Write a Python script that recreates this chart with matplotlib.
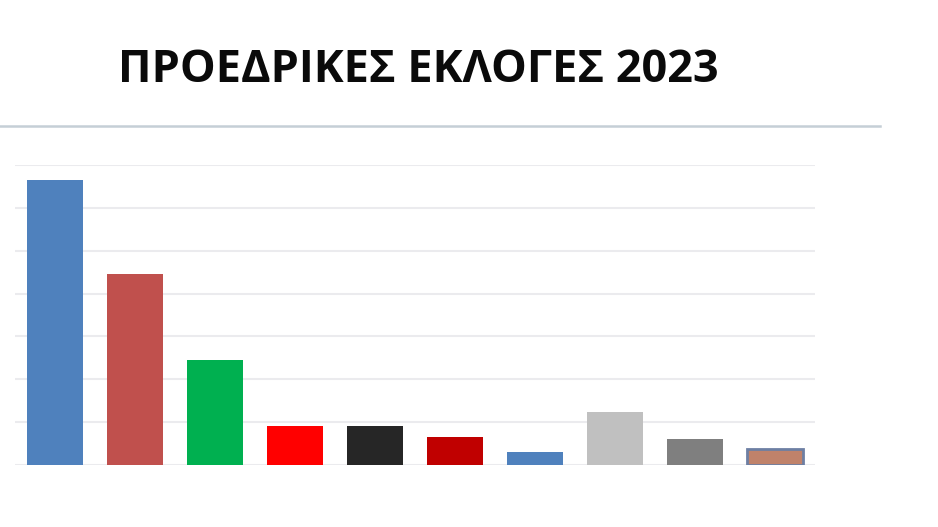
import matplotlib
matplotlib.use('Agg')
import matplotlib.pyplot as plt
from matplotlib.lines import Line2D
import numpy as np

# candidates (no labels shown in the picture), percentages
candidates = ['c1', 'c2', 'c3', 'c4', 'c5', 'c6', 'c7', 'c8', 'c9', 'c10']
values = [33.2, 22.3, 12.3, 4.6, 4.6, 3.3, 1.5, 6.2, 3.0, 1.9]
colors = ['#4f81bd', '#c0504d', '#00b050', '#ff0000', '#262626',
          '#c00000', '#4f81bd', '#c0c0c0', '#7f7f7f', '#c0826a']
edges = ['none'] * 9 + ['#6d7fa3']
grid_ticks = [0, 5, 10, 15, 20, 25, 30, 35]

W, H = 938, 527
fig = plt.figure(figsize=(W / 100, H / 100), dpi=100)
ax = fig.add_axes([15 / W, (H - 465) / H, 800 / W, 300 / H])

x = np.arange(len(candidates))
ax.bar(x, values, width=0.7, color=colors, edgecolor=edges, linewidth=2,
       zorder=3)

ax.set_xlim(-0.5, len(candidates) - 0.5)
ax.set_ylim(0, 35)
ax.set_yticks(grid_ticks)
ax.yaxis.grid(True, color='#ebebee', linewidth=1.5, zorder=0)
ax.tick_params(left=False, bottom=False, labelleft=False, labelbottom=False)
for s in ax.spines.values():
    s.set_visible(False)

fig.text(418 / W, 1 - 70 / H, 'ΠΡΟΕΔΡΙΚΕΣ ΕΚΛΟΓΕΣ 2023', ha='center',
         va='center', fontsize=32.5, fontweight='bold', family='Open Sans',
         color='#0a0a0a')
fig.add_artist(Line2D([0, 880 / W], [1 - 126 / H, 1 - 126 / H],
                      color='#c5cfd6', linewidth=1.8))

fig.savefig('out.png', dpi=100)
